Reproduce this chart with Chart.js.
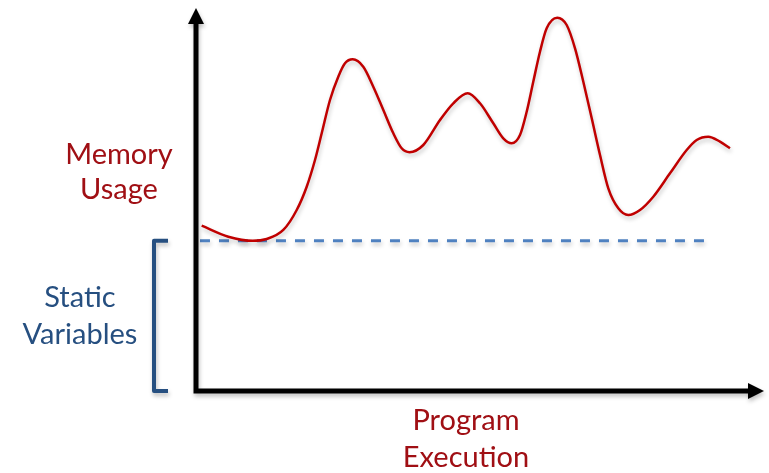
<!DOCTYPE html>
<html>
<head>
<meta charset="utf-8">
<script src="https://cdn.jsdelivr.net/npm/chart.js@4.4.1/dist/chart.umd.min.js"></script>
<style>
  html, body { margin: 0; padding: 0; background: #ffffff; }
  #wrap { width: 769px; height: 473px; position: relative; }
</style>
</head>
<body>
<div id="wrap"><canvas id="c" width="769" height="473"></canvas></div>
<script>
// ---- data ----
const memoryX = [1.00, 5.69, 10.0, 12.45, 15.37, 17.73, 19.49, 20.95, 22.13, 23.59, 25.05, 26.23, 27.59, 29.45, 31.21, 32.98, 34.74, 36.21, 37.59, 40.02, 42.96, 45.30, 47.83, 50.00, 52.34, 54.10, 55.58, 57.04, 58.22, 59.38, 60.56, 61.74, 63.61, 65.26, 66.73, 68.19, 69.67, 71.13, 72.59, 74.35, 76.11, 78.17, 80.51, 83.45, 86.39, 88.15, 90.19, 92.25, 94.01];
const memoryY = [43.16, 40.29, 39.2, 39.69, 42.04, 47.26, 53.34, 60.31, 67.28, 75.98, 82.06, 85.56, 86.61, 84.67, 79.45, 73.37, 67.28, 63.37, 62.35, 64.23, 70.76, 75.12, 77.73, 75.12, 69.90, 65.98, 64.67, 66.84, 72.92, 80.76, 88.59, 94.70, 97.47, 95.56, 89.48, 80.76, 71.20, 61.62, 52.92, 47.70, 45.95, 47.26, 50.73, 56.84, 62.92, 65.54, 66.40, 65.09, 63.37];
const staticX = [0.7, 89.6];
const staticY = [39.2, 39.2];
const memoryLabel = ["Memory", "Usage"];
const staticLabel = ["Static", "Variables"];
const xAxisLabel = ["Program", "Execution"];

const RED = "#c00000";
const TEXT_RED = "#a00f14";
const BLUE_DASH = "#4f81c0";
const BLUE_DARK = "#264f80";

const memoryData = memoryX.map((x, i) => ({ x: x, y: memoryY[i] }));
const staticData = staticX.map((x, i) => ({ x: x, y: staticY[i] }));

const shadowPlugin = {
  id: "shadow",
  beforeDatasetDraw(chart, args) {
    const ctx = chart.ctx;
    ctx.save();
    ctx.shadowColor = "rgba(0,0,0,0.22)";
    ctx.shadowBlur = 4;
    ctx.shadowOffsetX = 1;
    ctx.shadowOffsetY = 3;
  },
  afterDatasetDraw(chart) {
    chart.ctx.restore();
  }
};

const decorPlugin = {
  id: "decor",
  afterDraw(chart) {
    const ctx = chart.ctx;
    const xs = chart.scales.x, ys = chart.scales.y;
    const x0 = xs.getPixelForValue(0);
    const y0 = ys.getPixelForValue(0);
    const xEnd = xs.getPixelForValue(100);
    const yTop = ys.getPixelForValue(100);

    ctx.save();
    ctx.shadowColor = "rgba(0,0,0,0.25)";
    ctx.shadowBlur = 4;
    ctx.shadowOffsetX = 1;
    ctx.shadowOffsetY = 3;
    // axes
    ctx.strokeStyle = "#000";
    ctx.fillStyle = "#000";
    ctx.lineWidth = 5;
    ctx.lineCap = "butt";
    ctx.beginPath();
    ctx.moveTo(x0, y0 + 2.5);
    ctx.lineTo(x0, yTop + 14);
    ctx.moveTo(x0 - 2.5, y0);
    ctx.lineTo(xEnd - 14, y0);
    ctx.stroke();
    // arrowheads
    ctx.beginPath();
    ctx.moveTo(x0, yTop);
    ctx.lineTo(x0 - 8, yTop + 16);
    ctx.lineTo(x0 + 8, yTop + 16);
    ctx.closePath();
    ctx.fill();
    ctx.beginPath();
    ctx.moveTo(xEnd, y0);
    ctx.lineTo(xEnd - 16, y0 - 8);
    ctx.lineTo(xEnd - 16, y0 + 8);
    ctx.closePath();
    ctx.fill();

    // bracket for static variables
    const bTop = ys.getPixelForValue(staticY[0]);
    const bx = x0 - 42;
    ctx.strokeStyle = BLUE_DARK;
    ctx.lineWidth = 4;
    ctx.lineJoin = "round";
    ctx.lineCap = "butt";
    ctx.beginPath();
    ctx.moveTo(bx + 14, bTop);
    ctx.lineTo(bx, bTop);
    ctx.lineTo(bx, y0);
    ctx.lineTo(bx + 14, y0);
    ctx.stroke();
    ctx.restore();

    // texts
    ctx.save();
    ctx.font = "29px Lato, 'Open Sans', sans-serif";
    ctx.textAlign = "center";
    ctx.textBaseline = "middle";
    ctx.fillStyle = TEXT_RED;
    ctx.fillText(memoryLabel[0], x0 - 77, 155);
    ctx.fillText(memoryLabel[1], x0 - 77, 190);
    ctx.fillStyle = BLUE_DARK;
    ctx.fillText(staticLabel[0], x0 - 116, 298);
    ctx.fillText(staticLabel[1], x0 - 116, 335);
    ctx.fillStyle = TEXT_RED;
    const cx = (x0 + xEnd) / 2 - 14;
    ctx.fillText(xAxisLabel[0], cx, y0 + 30);
    ctx.fillText(xAxisLabel[1], cx, y0 + 67);
    ctx.restore();
  }
};

new Chart(document.getElementById("c"), {
  type: "line",
  data: {
    datasets: [
      {
        label: "Memory Usage",
        data: memoryData,
        borderColor: RED,
        borderWidth: 2.5,
        pointRadius: 0,
        cubicInterpolationMode: "monotone",
        fill: false
      },
      {
        label: "Static Variables",
        data: staticData,
        borderColor: BLUE_DASH,
        borderWidth: 3,
        borderDash: [10, 9],
        pointRadius: 0,
        fill: false
      }
    ]
  },
  options: {
    responsive: false,
    animation: false,
    layout: { padding: { left: 196, right: 5, top: 8, bottom: 82 } },
    plugins: { legend: { display: false }, tooltip: { enabled: false } },
    scales: {
      x: { type: "linear", min: 0, max: 100, display: false },
      y: { type: "linear", min: 0, max: 100, display: false }
    }
  },
  plugins: [shadowPlugin, decorPlugin]
});
</script>
</body>
</html>
